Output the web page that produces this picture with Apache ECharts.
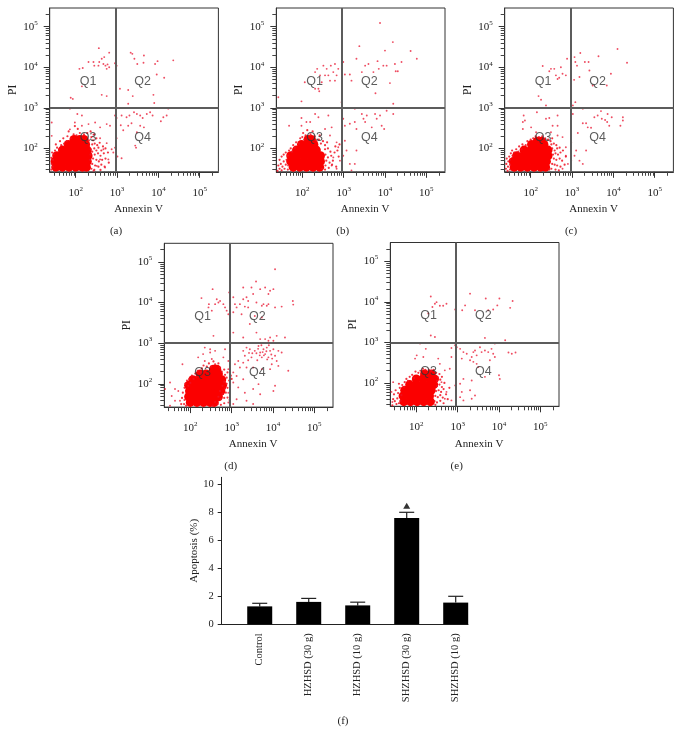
<!DOCTYPE html>
<html><head><meta charset="utf-8">
<style>html,body{margin:0;padding:0;background:#fff}#c{width:681px;height:729px}</style>
<script src="https://cdn.jsdelivr.net/npm/echarts@6/dist/echarts.min.js"></script>
</head><body><div id="c"></div>
<script>
// Scatter values are log10 fluorescence [Annexin V, PI].
const sparseA=[[2.09,3.96],[2.17,3.98],[2.31,4.13],[2.43,4.13],[2.56,4.47],[2.45,4.04],[2.55,4.04],[2.57,4.13],[2.63,4.21],[2.67,4.08],[2.69,4.25],[2.72,4.04],[2.77,4.07],[2.81,4.36],[2.81,4.00],[2.75,3.96],[1.88,3.25],[1.93,3.22],[2.15,3.53],[2.63,3.32],[2.75,3.29],[2.95,4.10],
[3.33,4.36],[3.37,4.33],[3.42,4.21],[3.65,4.29],[3.64,4.11],[3.49,4.08],[3.92,4.08],[3.98,4.15],[4.36,4.17],[3.96,3.82],[4.14,3.74],[3.07,3.47],[3.27,3.44],[3.38,3.29],[3.88,3.32],[3.90,3.12],[3.27,3.10],[2.99,4.04],
[2.95,2.81],[2.99,2.75],[3.11,2.81],[3.23,2.77],[3.3,2.81],[3.41,2.89],[3.48,2.85],[3.56,2.81],[3.62,2.75],[3.72,2.85],[3.8,2.89],[3.86,2.81],[4.06,2.67],[4.12,2.77],[4.2,2.81],[4.24,2.98],[3.09,2.57],[3.15,2.45],[3.27,2.56],[3.35,2.62],[3.56,2.56],[3.65,2.52],[3.48,2.4],[3.44,2.07],[3.46,2.02],[2.99,2.25],[3.01,1.8],[3.11,1.76],[2.95,2.02],[2.91,1.9],
[1.86,2.98],[2.04,2.85],[2.15,2.81],[1.98,2.64],[2.15,2.56],[2.31,2.6],[2.47,2.64],[2.59,2.52],[2.75,2.6],[2.83,2.56],[1.42,2.64],[1.42,2.31],[1.86,2.47],[2.43,2.34],[2.59,2.25],[2.75,2.13],[2.87,1.98],[2.67,1.98],[2.79,1.73],[2.59,1.73],[2.51,1.57],[2.71,1.53],[2.43,1.45]];
const coreA=[[1.52,1.54],[1.68,1.54],[1.84,1.54],[2.0,1.54],[2.16,1.54],[2.26,1.54],[1.5,1.68],[1.66,1.68],[1.82,1.68],[1.98,1.68],[2.14,1.68],[2.28,1.68],[1.54,1.82],[1.7,1.82],[1.86,1.82],[2.02,1.82],[2.18,1.82],[2.3,1.82],[1.68,1.96],[1.84,1.96],[2.0,1.96],[2.16,1.96],[2.28,1.96],[1.82,2.1],[1.98,2.1],[2.14,2.1],[2.24,2.1],[1.96,2.22],[2.1,2.22],[2.2,2.22]];
const fringeA=[[1.41,1.48],[1.42,1.62],[1.41,1.77],[1.44,1.55],[1.45,1.72],[1.43,1.9],[1.47,1.86],[1.5,1.95],[1.55,2.02],[1.6,1.98],[1.52,2.1],[1.65,2.08],[1.62,2.18],[1.72,2.12],[1.7,2.25],[1.78,2.18],[1.8,2.3],[1.88,2.25],[1.95,2.35],[1.83,2.42],[2.02,2.32],[2.1,2.38],[2.2,2.35],[2.05,2.48],[1.98,2.55],[2.38,2.28],[2.32,2.2],[2.28,2.38],[2.36,2.42],[2.45,2.35],[2.42,2.2],[2.5,2.25],[2.4,2.1],[2.46,2.12],[2.52,2.08],[2.58,2.14],[2.45,2],[2.5,1.95],[2.55,2.02],[2.62,1.95],[2.4,1.92],[2.46,1.85],[2.54,1.88],[2.6,1.82],[2.68,1.88],[2.42,1.75],[2.5,1.72],[2.56,1.68],[2.64,1.72],[2.72,1.75],[2.4,1.62],[2.47,1.58],[2.55,1.55],[2.62,1.6],[2.7,1.55],[2.38,1.5],[2.45,1.47],[2.6,1.47],[2.35,1.72],[2.36,1.85],[2.36,1.98],[2.66,2.05],[2.72,2.0],[2.78,1.9],[2.8,1.65]];

const sparseB=[[2.31,3.88],[2.36,3.96],[2.43,3.8],[2.51,4.04],[2.55,3.8],[2.63,3.8],[2.69,4.04],[2.79,4.08],[2.75,3.88],[2.83,3.8],[2.87,3.96],[2.67,3.67],[2.39,3.47],[2.31,3.47],[2.41,3.41],[1.42,3.26],[1.98,3.16],[2.95,3.14],[2.06,3.63],[2.79,3.67],[2.47,3.63],[2.59,3.96],
[2.99,4.13],[3.03,3.82],[3.15,3.82],[3.31,4.21],[3.38,4.52],[3.44,3.88],[3.52,4.04],[3.6,4.08],[3.72,3.88],[3.82,4.15],[3.85,3.96],[3.88,5.09],[4,4.41],[4.19,4.62],[3.96,4.04],[4.04,4.04],[4.24,4.08],[4.4,4.13],[4.26,3.9],[4.31,3.9],[4.62,4.4],[4.77,4.21],[4.12,3.61],[3.77,3.36],[4.2,3.1],[3.19,3.67],
[2.99,2.73],[3.03,2.56],[3.15,2.61],[3.27,2.65],[3.31,2.48],[3.44,2.85],[3.48,2.73],[3.56,2.81],[3.52,2.65],[3.68,2.52],[3.76,2.85],[3.8,2.73],[3.88,2.81],[3.92,2.56],[3.98,2.48],[4.04,2.93],[4.2,2.85],[3.27,2.98],[3.07,1.95],[3.15,1.62],[3.27,1.62],[3.31,1.95],[2.99,1.82],[3.19,1.46],[3.03,2.19],
[1.98,2.75],[2.1,2.65],[2.31,2.85],[2.39,2.77],[2.63,2.81],[1.68,2.56],[2.55,2.48],[2.71,2.52],[2.67,2.32],[2.83,2.15],[2.87,2.03],[2.75,1.78],[2.91,1.7],[2.71,1.58],[2.83,1.5],[1.98,2.56],[2.19,2.65]];
const coreB=[[1.78,1.54],[1.94,1.54],[2.1,1.54],[2.26,1.54],[2.42,1.54],[1.72,1.68],[1.88,1.68],[2.04,1.68],[2.2,1.68],[2.36,1.68],[2.44,1.68],[1.72,1.82],[1.88,1.82],[2.04,1.82],[2.2,1.82],[2.36,1.82],[2.44,1.82],[1.86,1.96],[2.02,1.96],[2.18,1.96],[2.34,1.96],[1.98,2.1],[2.14,2.1],[2.28,2.1],[2.14,2.22],[2.22,2.22]];
const fringeB=[[1.4,1.45],[1.42,1.58],[1.45,1.5],[1.48,1.62],[1.5,1.46],[1.52,1.55],[1.55,1.68],[1.57,1.5],[1.6,1.6],[1.62,1.72],[1.65,1.48],[1.66,1.58],[1.45,1.72],[1.5,1.8],[1.55,1.85],[1.6,1.9],[1.65,1.82],[1.68,1.95],[1.72,2.0],[1.75,1.92],[1.78,2.08],[1.82,2.02],[1.85,2.15],[1.92,2.12],[1.95,2.25],[2,2.28],[2.05,2.22],[2.02,2.38],[2.08,2.32],[2.12,2.45],[2.2,2.35],[2.25,2.42],[2.3,2.3],[2.34,2.2],[2.4,2.22],[2.45,2.12],[2.5,2.18],[2.42,2.32],[2.55,2.08],[2.6,2.15],[2.55,1.98],[2.62,2],[2.68,1.92],[2.56,1.85],[2.62,1.78],[2.7,1.82],[2.58,1.7],[2.66,1.65],[2.74,1.7],[2.56,1.58],[2.64,1.52],[2.72,1.6],[2.55,1.48],[2.78,1.9],[2.8,2.05],[2.85,1.95],[2.9,2.1],[2.82,1.55],[2.88,1.8],[2.48,1.5]];

const sparseC=[[2.29,4.03],[2.45,3.9],[2.49,3.96],[2.57,3.96],[2.61,3.8],[2.65,3.71],[2.73,4],[2.77,3.84],[2.85,3.8],[2.88,4.21],[2.19,3.29],[2.25,3.2],[2.37,3.06],[2.69,3.74],
[3.06,4.25],[3.08,4.13],[3.2,4.35],[3.12,4.04],[3.31,4.13],[3.4,4.13],[3.18,3.76],[3.05,3.69],[3.64,4.27],[4.1,4.45],[4.33,4.11],[3.94,3.84],[3.84,3.55],[3.08,3.14],[3.02,3.06],[3.42,3.92],[3.5,3.55],
[3.26,2.98],[3.54,2.77],[3.62,2.81],[3.7,2.92],[3.72,2.73],[3.8,2.7],[3.86,2.85],[3.85,2.65],[3.96,2.77],[3.9,2.56],[4.23,2.77],[4.23,2.69],[4.17,2.56],[3.26,2.62],[3.34,2.62],[3.38,2.52],[3.46,2.51],[3.14,2.38],[3.02,2.85],[2.98,2.15],[3.34,1.95],[3.1,1.95],[3.06,1.82],[3.18,1.7],[3.26,1.62],[2.98,1.7],[2.85,1.82],
[1.83,2.81],[1.86,2.69],[1.81,2.65],[1.81,2.48],[2.01,2.52],[2.15,2.89],[2.37,2.73],[2.45,2.75],[2.65,2.81],[2.53,2.56],[2.65,2.56],[2.49,2.4],[2.65,2.32],[2.77,2.28],[2.13,2.4],[2.85,2.03],[2.9,1.62],[2.77,1.5]];
const coreC=[[1.6,1.54],[1.76,1.54],[1.92,1.54],[2.08,1.54],[2.24,1.54],[2.36,1.54],[1.58,1.68],[1.74,1.68],[1.9,1.68],[2.06,1.68],[2.22,1.68],[2.38,1.68],[1.66,1.82],[1.82,1.82],[1.98,1.82],[2.14,1.82],[2.3,1.82],[2.42,1.82],[1.84,1.96],[2,1.96],[2.16,1.96],[2.32,1.96],[2.42,1.96],[2.02,2.1],[2.18,2.1],[2.32,2.1],[2.16,2.18],[2.26,2.18]];
const fringeC=[[1.4,1.5],[1.41,1.62],[1.42,1.75],[1.44,1.45],[1.45,1.55],[1.46,1.68],[1.48,1.8],[1.5,1.48],[1.5,1.6],[1.5,1.72],[1.52,1.88],[1.56,1.82],[1.55,1.95],[1.6,1.9],[1.65,1.98],[1.7,1.92],[1.72,2.05],[1.78,1.98],[1.8,2.1],[1.88,2.08],[1.92,2.18],[2,2.22],[2.06,2.25],[2.12,2.3],[2.2,2.28],[2.28,2.3],[2.35,2.25],[2.42,2.22],[2.48,2.18],[2.52,2.25],[2.5,2.1],[2.56,2.12],[2.62,2.08],[2.52,2],[2.58,1.95],[2.64,2],[2.7,2.02],[2.54,1.85],[2.6,1.88],[2.66,1.85],[2.72,1.9],[2.78,1.95],[2.56,1.75],[2.62,1.72],[2.7,1.75],[2.76,1.7],[2.52,1.62],[2.58,1.6],[2.64,1.58],[2.72,1.55],[2.5,1.5],[2.6,1.48],[2.68,1.46],[2.82,1.6],[2.85,1.8],[2.45,1.48]];

const sparseD=[[2.27,4.11],[2.54,4.33],[2.45,3.96],[2.44,3.88],[2.6,3.96],[2.68,4],[2.72,4.04],[2.52,3.8],[2.84,3.88],[2.88,3.8],[2.92,3.71],[2.8,3.96],[2.94,4.25],[2.56,3.18],[2.64,4.08],
[3.04,4.13],[3.08,3.96],[3.12,3.88],[3.2,3.96],[3.28,4.37],[3.28,4.08],[3.36,4.13],[3.4,4.04],[3.48,4.37],[3.52,4.21],[3.59,4.52],[3.32,3.9],[3.4,3.88],[3.6,4],[3.69,4.33],[3.73,3.92],[3.77,3.96],[3.81,4.37],[3.85,3.92],[3.89,4.21],[3.93,4.29],[4.01,4.33],[3.89,3.96],[4.05,4.82],[4.21,3.9],[4.05,3.88],[4.48,4.04],[4.49,3.95],[3.04,3.76],[3.24,3.71],[3.56,3.67],[3.73,3.63],[3.44,3.47],[3.28,3.14],[3.6,3.26],[3.69,3.1],[3.81,3.1],[3.93,3.14],[4.09,3.18],[4.29,3.14],[3.89,3.06],[4.01,3.06],[3.04,3.26],
[3.28,2.81],[3.36,2.89],[3.32,2.69],[3.44,2.85],[3.48,2.65],[3.56,2.81],[3.65,2.93],[3.69,2.77],[3.73,2.65],[3.77,2.85],[3.81,2.73],[3.85,2.89],[3.89,2.65],[3.93,2.81],[4.01,2.85],[4.05,2.69],[4.13,2.81],[4.21,2.77],[4.09,2.56],[3.97,2.48],[3.28,2.52],[3.16,2.56],[3.08,2.48],[3.04,2.28],[3.12,2.19],[3.2,2.4],[3.36,2.4],[3.52,2.4],[3.73,2.36],[3.93,2.36],[4.13,2.44],[4.37,2.32],[3.28,2.11],[3.04,2.03],[3.16,1.91],[3.32,1.78],[3.52,1.87],[3.65,1.99],[4.05,1.95],[3.12,1.62],[3.36,1.58],[3.69,1.74],[3.04,1.5],[3.52,1.5],[4.01,1.82],
[3.6,2.75],[3.64,2.86],[3.72,2.95],[3.78,2.7],[3.84,2.8],[3.9,2.95],[3.96,2.72],[3.68,2.7],[3.75,2.78],[3.5,2.75],[3.42,2.76],[3.86,2.6],[3.98,2.62],[3.62,2.58],[3.4,2.58],
[2.35,2.89],[2.48,2.85],[2.31,2.73],[2.6,2.81],[2.52,2.61],[2.35,2.56],[1.81,2.48],[2.84,2.85],[2.8,2.65],[2.92,2.56],[2.92,2.36],[1.51,2.03],[1.63,1.87],[1.55,1.7],[1.71,1.82],[1.63,1.58],[1.75,1.58],[1.51,1.46],[1.39,1.87],[2.92,1.78],[2.92,1.54],[2.48,2.77],[2.19,2.65]];
const coreD=[[2.0,1.54],[2.16,1.54],[2.32,1.54],[2.48,1.54],[2.58,1.54],[1.96,1.68],[2.12,1.68],[2.28,1.68],[2.44,1.68],[2.58,1.68],[2.68,1.68],[1.98,1.82],[2.14,1.82],[2.3,1.82],[2.46,1.82],[2.62,1.82],[2.74,1.82],[1.96,1.96],[2.08,1.96],[2.24,1.96],[2.4,1.96],[2.56,1.96],[2.7,1.96],[2.78,1.96],[2.06,2.1],[2.2,2.1],[2.36,2.1],[2.52,2.1],[2.68,2.1],[2.76,2.1],[2.24,2.24],[2.38,2.24],[2.54,2.24],[2.68,2.24],[2.56,2.36],[2.64,2.36]];
const fringeD=[[1.78,1.5],[1.8,1.65],[1.82,1.78],[1.85,1.5],[1.86,1.6],[1.86,1.9],[1.88,2],[1.9,1.46],[1.92,2.08],[1.95,1.95],[1.98,2.12],[2,2.02],[2.04,2.2],[2.08,2.12],[2.12,2.25],[2.15,2.18],[2.18,2.32],[2.25,2.28],[2.28,2.38],[2.32,2.45],[2.4,2.42],[2.45,2.5],[2.5,2.42],[2.56,2.55],[2.6,2.48],[2.68,2.5],[2.72,2.4],[2.76,2.3],[2.82,2.35],[2.84,2.22],[2.88,2.15],[2.9,2.28],[2.82,2.05],[2.88,2],[2.94,2.08],[2.78,1.95],[2.84,1.88],[2.9,1.9],[2.96,1.95],[2.72,1.82],[2.78,1.75],[2.86,1.78],[2.68,1.68],[2.74,1.62],[2.82,1.65],[2.9,1.66],[2.6,1.55],[2.66,1.5],[2.74,1.48],[2.82,1.52],[2.54,1.46],[2.95,1.6],[2.98,2.2],[3,2.12]];

const sparseE=[[2.35,4.13],[2.39,3.87],[2.45,3.95],[2.49,3.99],[2.57,3.9],[2.65,3.9],[2.73,3.95],[2.35,3.17],[2.45,3.13],[2.94,3.81],[2.29,3.71],
[2.96,3.79],[3.11,3.79],[3.18,3.91],[3.3,4.2],[3.42,3.79],[3.68,4.08],[4.01,4.08],[3.86,3.81],[3.96,3.91],[4.27,3.85],[4.33,4.02],[3.74,3.79],[3.66,3.11],[4.15,3.05],[3.9,2.98],
[2.98,2.88],[3.06,2.84],[3.14,2.76],[3.1,2.6],[3.22,2.72],[3.34,2.64],[3.38,2.76],[3.42,2.8],[3.46,2.68],[3.54,2.88],[3.58,2.76],[3.38,2.52],[3.46,2.47],[3.5,2.39],[3.3,2.56],[3.66,2.8],[3.74,2.76],[3.82,2.84],[3.86,2.72],[3.9,2.97],[3.9,2.64],[3.78,2.56],[4.23,2.75],[4.31,2.72],[4.4,2.75],[4,2.19],[4.02,2.1],[3.66,2.15],[3.34,2.06],[3.14,2.1],[3.06,1.98],[3.1,1.78],[3.3,1.82],[3.06,1.65],[3.14,1.57],[3.34,1.61],[3.42,1.69],
[2.09,2.97],[2.23,2.84],[2.01,2.68],[1.97,2.6],[2.17,2.64],[2.53,2.6],[2.57,2.47],[2.85,2.64],[2.85,2.86],[2.94,2.93],[2.69,2.31],[2.81,2.35],[2.61,2.02],[2.73,1.78],[2.85,1.57],[2.69,1.61],[2.94,1.94],[1.44,2.02],[1.4,1.78],[1.42,1.53]];
const coreE=[[1.7,1.54],[1.86,1.54],[2.02,1.54],[2.18,1.54],[2.34,1.54],[1.68,1.68],[1.84,1.68],[2,1.68],[2.16,1.68],[2.32,1.68],[1.72,1.82],[1.88,1.82],[2.04,1.82],[2.2,1.82],[2.36,1.82],[1.84,1.96],[2,1.96],[2.16,1.96],[2.32,1.96],[2.42,1.96],[2,2.1],[2.16,2.1],[2.32,2.1],[2.44,2.1],[2.2,2.22],[2.36,2.22]];
const fringeE=[[1.42,1.45],[1.44,1.6],[1.46,1.72],[1.48,1.55],[1.5,1.82],[1.52,1.48],[1.54,1.62],[1.56,1.75],[1.58,1.5],[1.6,1.88],[1.62,1.56],[1.64,1.7],[1.66,1.95],[1.58,1.98],[1.7,1.9],[1.72,2.02],[1.76,2.1],[1.8,2.05],[1.84,2.15],[1.9,2.2],[1.95,2.12],[1.98,2.28],[2.05,2.25],[2.1,2.3],[2.16,2.35],[2.22,2.32],[2.3,2.32],[2.36,2.3],[2.42,2.32],[2.48,2.25],[2.52,2.14],[2.56,2.22],[2.5,2.05],[2.58,2.08],[2.62,2.15],[2.5,1.92],[2.56,1.96],[2.62,1.9],[2.68,2],[2.48,1.8],[2.54,1.82],[2.6,1.78],[2.66,1.85],[2.46,1.68],[2.52,1.65],[2.58,1.7],[2.64,1.64],[2.44,1.55],[2.5,1.52],[2.58,1.56],[2.66,1.5],[2.46,1.46],[2.72,1.72],[2.76,1.6],[2.8,1.88]];

const quadrantNames=['Q1','Q2','Q3','Q4'];
const quadrantLabelLogs=[[2.3,3.65],[3.62,3.65],[2.3,2.27],[3.62,2.27]];
const minorTicks=[30,40,50,60,70,80,90,200,300,400,500,600,700,800,900,2000,3000,4000,5000,6000,7000,8000,9000,20000,30000,40000,50000,60000,70000,80000,90000,200000];
const majorTicks=[100,1000,10000,100000];
const gateAnnexin=912, gatePI=1000;
const captions=['(a)','(b)','(c)','(d)','(e)'];

const categories=['Control','HZHSD (30 g)','HZHSD (10 g)','SHZHSD (30 g)','SHZHSD (10 g)'];
const apoptosisMean=[1.28,1.6,1.35,7.6,1.55];
const apoptosisTop=[1.5,1.85,1.58,8.0,2.0];
const markerPoint=[[3,8.47]];
const apoptosisTicks=[0,2,4,6,8,10];

const serif='"Liberation Serif","DejaVu Serif",serif';
const rects=[[49.7,8],[276.3,8],[504.7,8],[164.3,243.3],[390.3,242.5]];
const capPos=[[111,228],[337.7,228],[566,228],[225.7,463],[451.7,463]];
const sets=[[sparseA,coreA,fringeA],[sparseB,coreB,fringeB],[sparseC,coreC,fringeC],[sparseD,coreD,fringeD],[sparseE,coreE,fringeE]];
const pow=a=>a.map(p=>[Math.pow(10,p[0]),Math.pow(10,p[1])]);

const grid=[],xAxis=[],yAxis=[],series=[],title=[];
const W=168.7,H=163.8,XMIN=23.5,XMAX=283000,YMIN=26.6,YMAX=288000;
const powerLabel=v=>'{b|10}{s|'+Math.round(Math.log10(v))+'}';
const rich={b:{fontFamily:serif,fontSize:11,color:'#222'},s:{fontFamily:serif,fontSize:7,color:'#222',padding:[0,0,7,0]}};
sets.forEach((s,i)=>{
  const [l,t]=rects[i]; const xi=xAxis.length, yi=yAxis.length, gi=grid.length;
  grid.push({left:l,top:t,width:W,height:H,show:true,borderColor:'#333',borderWidth:1,backgroundColor:'#fff'});
  const lineOff={show:false};
  xAxis.push({type:'log',logBase:10,gridIndex:gi,min:XMIN,max:XMAX,position:'bottom',splitLine:lineOff,axisLine:{show:true,lineStyle:{color:'#333'}},
    axisTick:{show:true,customValues:majorTicks,length:6,lineStyle:{color:'#333'}},
    axisLabel:{customValues:majorTicks,formatter:powerLabel,rich,margin:14},
    name:'Annexin V',nameLocation:'middle',nameGap:32,nameTextStyle:{fontFamily:serif,fontSize:11,color:'#222',padding:[0,0,0,9]}});
  xAxis.push({type:'log',logBase:10,gridIndex:gi,min:XMIN,max:XMAX,position:'bottom',splitLine:lineOff,axisLine:lineOff,
    axisTick:{show:true,customValues:minorTicks,length:4,lineStyle:{color:'#444'}},axisLabel:{show:false}});
  yAxis.push({type:'log',logBase:10,gridIndex:gi,min:YMIN,max:YMAX,position:'left',splitLine:lineOff,axisLine:{show:true,lineStyle:{color:'#333'}},
    axisTick:{show:true,customValues:majorTicks,length:6,lineStyle:{color:'#333'}},
    axisLabel:{customValues:majorTicks,formatter:powerLabel,rich,margin:12},
    name:'PI',nameLocation:'middle',nameGap:31,nameTextStyle:{fontFamily:serif,fontSize:11.5,color:'#222'}});
  yAxis.push({type:'log',logBase:10,gridIndex:gi,min:YMIN,max:YMAX,position:'left',splitLine:lineOff,axisLine:lineOff,
    axisTick:{show:true,customValues:minorTicks,length:4,lineStyle:{color:'#444'}},axisLabel:{show:false}});
  const ax={xAxisIndex:xi,yAxisIndex:yi,silent:true,animation:false};
  series.push({type:'scatter',...ax,data:pow(s[1]),symbolSize:9,itemStyle:{color:'#fb0000',opacity:1}});
  series.push({type:'scatter',...ax,data:pow(s[2]),symbolSize:2.2,itemStyle:{color:'#f01020',opacity:.85}});
  series.push({type:'scatter',...ax,data:pow(s[0]),symbolSize:1.9,itemStyle:{color:'#e8122e',opacity:.75},
    markLine:{silent:true,symbol:'none',animation:false,label:{show:false},lineStyle:{color:'#5c5c5c',width:2,type:'solid'},
      data:[{xAxis:gateAnnexin},{yAxis:gatePI}]}});
  series.push({type:'scatter',...ax,data:pow(quadrantLabelLogs).map((p,k)=>({value:p,name:quadrantNames[k]})),symbolSize:0,z:5,
    label:{show:true,position:'inside',formatter:'{b}',fontFamily:'"Liberation Sans",sans-serif',fontSize:12.5,color:'#333'}});
  title.push({text:captions[i],left:capPos[i][0],top:capPos[i][1]-7,textAlign:'center',textStyle:{fontFamily:serif,fontSize:11,fontWeight:'normal',color:'#222'}});
});

// (f) bar chart
const gf=grid.length, xf=xAxis.length, yf=yAxis.length;
grid.push({left:221.7,top:477.3,width:246.3,height:147});
xAxis.push({type:'value',gridIndex:gf,min:-0.776,max:4.251,splitLine:{show:false},axisLine:{show:true,onZero:false,lineStyle:{color:'#222'}},
  axisTick:{show:false},axisLabel:{customValues:[0,1,2,3,4],formatter:v=>categories[v],rotate:90,margin:9,fontFamily:serif,fontSize:10.5,color:'#222'}});
yAxis.push({type:'value',gridIndex:gf,min:0,max:10.5,splitLine:{show:false},axisLine:{show:true,onZero:false,lineStyle:{color:'#222'}},
  axisTick:{show:true,customValues:apoptosisTicks,length:4,lineStyle:{color:'#222'}},axisLabel:{customValues:apoptosisTicks,margin:8,fontFamily:serif,fontSize:10.5,color:'#222'},
  name:'Apoptosis (%)',nameLocation:'middle',nameGap:22,nameTextStyle:{fontFamily:serif,fontSize:11,color:'#222'}});
series.push({type:'bar',xAxisIndex:xf,yAxisIndex:yf,barWidth:25,data:apoptosisMean.map((v,i)=>[i,v]),itemStyle:{color:'#000'},silent:true,animation:false});
series.push({type:'custom',xAxisIndex:xf,yAxisIndex:yf,silent:true,animation:false,z:1,
  data:apoptosisMean.map((v,i)=>[i,v,apoptosisTop[i]]),encode:{x:0,y:2},
  renderItem:(p,api)=>{
    const a=api.coord([api.value(0),api.value(1)]),b=api.coord([api.value(0),api.value(2)]);
    const st={stroke:'#222',lineWidth:1.2,fill:null};
    return {type:'group',children:[
      {type:'line',shape:{x1:a[0],y1:a[1],x2:b[0],y2:b[1]},style:st},
      {type:'line',shape:{x1:b[0]-7.5,y1:b[1],x2:b[0]+7.5,y2:b[1]},style:st}]};
  }});
series.push({type:'scatter',xAxisIndex:xf,yAxisIndex:yf,data:markerPoint,symbol:'triangle',symbolSize:[7,6],itemStyle:{color:'#000'},silent:true,animation:false});
title.push({text:'(f)',left:338,top:711,textAlign:'center',textStyle:{fontFamily:serif,fontSize:11,fontWeight:'normal',color:'#222'}});

const chart=echarts.init(document.getElementById('c'),null,{renderer:'canvas'});
chart.setOption({animation:false,backgroundColor:'#fff',title,grid,xAxis,yAxis,series,tooltip:{show:false}});
</script></body></html>
